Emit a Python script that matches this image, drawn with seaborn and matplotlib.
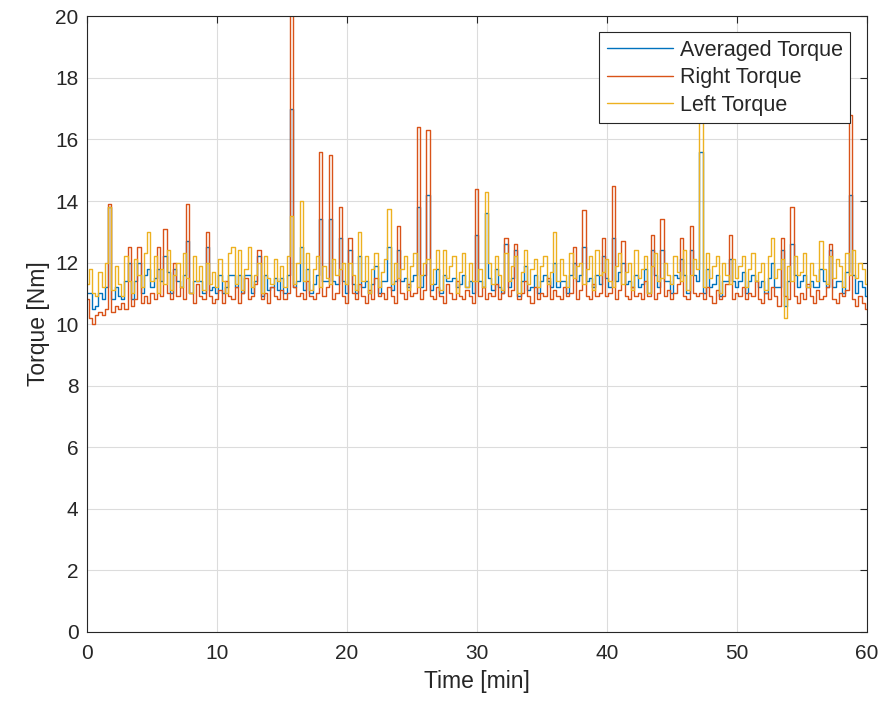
import numpy as np
import pandas as pd
import matplotlib
matplotlib.use("Agg")
import matplotlib.pyplot as plt
import seaborn as sns

# sample spacing of the read-off curves (minutes)
step = 0.25
time_min = np.arange(0, 60 + step / 2, step)

right_torque = [
    10.8, 10.2, 10.0, 10.3, 10.4, 10.3, 10.5, 13.9, 10.4, 10.6, 10.5, 10.7, 10.5, 12.5, 10.6, 10.8, 12.5, 10.7, 10.9, 10.7,
    11.0, 10.8, 12.5, 10.9, 13.1, 11.0, 10.8, 12.0, 10.9, 11.2, 10.8, 13.9, 11.0, 10.7, 11.3, 10.9, 10.8, 13.0, 10.9, 10.7,
    10.8, 11.1, 10.7, 11.4, 10.9, 10.8, 11.2, 10.7, 11.0, 11.5, 10.8, 10.9, 11.3, 12.4, 10.8, 11.0, 10.7, 11.2, 10.9, 10.8,
    11.1, 10.8, 11.0, 20.5, 11.2, 10.9, 11.0, 10.8, 11.4, 10.9, 10.8, 11.0, 15.6, 10.9, 11.2, 15.5, 10.8, 11.0, 13.8, 10.9,
    10.7, 12.8, 11.0, 10.8, 11.3, 10.9, 10.7, 11.1, 10.8, 11.5, 10.9, 11.0, 10.8, 11.2, 10.9, 10.7, 13.2, 11.0, 10.8, 11.3,
    10.9, 11.0, 16.4, 10.8, 11.1, 16.3, 10.9, 10.8, 11.2, 10.9, 10.7, 11.3, 11.0, 10.8, 11.4, 10.9, 10.8, 11.1, 10.9, 10.7,
    14.4, 10.9, 11.2, 10.8, 11.0, 10.9, 11.3, 10.8, 11.0, 12.8, 10.9, 11.1, 12.6, 10.8, 11.0, 11.4, 10.9, 10.7, 11.2, 10.8,
    11.0, 10.9, 11.5, 10.8, 11.1, 10.9, 10.8, 11.2, 10.9, 11.0, 12.5, 10.8, 11.1, 13.7, 10.9, 10.8, 11.3, 10.9, 11.0, 12.8,
    10.9, 11.0, 14.5, 10.8, 11.1, 12.7, 10.9, 10.8, 11.2, 10.9, 11.0, 10.8, 11.4, 10.9, 12.9, 10.8, 11.0, 13.4, 10.9, 11.1,
    10.8, 11.0, 11.3, 12.8, 10.9, 10.8, 13.2, 11.0, 10.9, 11.0, 10.8, 11.2, 10.9, 10.7, 11.1, 10.8, 10.9, 11.3, 12.9, 10.8,
    11.0, 10.9, 11.2, 10.8, 11.0, 10.9, 11.4, 10.8, 10.7, 11.0, 10.8, 11.2, 10.9, 10.6, 12.8, 10.9, 10.8, 13.8, 10.9, 10.7,
    11.0, 10.8, 11.3, 10.9, 10.7, 11.1, 10.8, 10.9, 11.2, 12.6, 10.8, 10.7, 11.0, 10.9, 11.1, 16.8, 10.8, 10.6, 10.9, 10.7,
    10.5,
]

left_torque = [
    11.3, 11.8, 11.0, 10.9, 11.7, 11.2, 12.0, 13.8, 11.1, 11.9, 11.3, 10.9, 12.2, 11.4, 11.0, 12.1, 11.6, 11.2, 12.3, 13.0,
    11.4, 12.2, 11.0, 11.8, 11.3, 12.4, 11.1, 11.6, 12.0, 11.2, 12.3, 11.5, 11.0, 12.2, 11.4, 11.9, 11.1, 12.0, 11.3, 11.7,
    11.2, 12.1, 11.4, 11.0, 12.3, 12.5, 11.3, 12.4, 11.1, 11.8, 12.5, 11.2, 11.6, 12.0, 11.0, 12.2, 11.5, 11.3, 12.1, 11.4,
    11.9, 11.2, 12.2, 13.5, 11.3, 12.0, 14.0, 11.4, 12.3, 11.1, 11.8, 12.2, 11.2, 11.9, 11.5, 11.3, 12.1, 11.6, 11.8, 12.0,
    11.3, 12.0, 11.6, 11.1, 13.0, 11.4, 12.2, 11.0, 11.8, 12.3, 11.2, 11.7, 12.1, 13.75, 11.3, 12.0, 11.5, 11.8, 12.2, 11.1,
    11.9, 12.3, 11.2, 11.6, 12.0, 12.1, 11.3, 11.8, 12.4, 11.1, 12.4, 11.5, 11.9, 12.2, 11.0, 11.7, 12.3, 11.2, 12.0, 11.4,
    11.4, 11.8, 11.2, 14.3, 12.0, 11.3, 12.2, 11.6, 11.1, 12.3, 11.4, 11.9, 12.2, 11.0, 11.7, 12.4, 11.3, 11.8, 12.1, 11.2,
    11.9, 12.2, 11.3, 11.7, 13.0, 11.4, 12.1, 11.6, 11.2, 12.3, 11.5, 11.9, 12.0, 11.3, 11.8, 12.2, 11.1, 12.4, 11.6, 11.7,
    12.1, 11.4, 11.2, 11.9, 12.3, 11.3, 11.7, 12.0, 11.1, 12.4, 11.5, 11.8, 12.2, 11.0, 11.9, 12.3, 11.4, 11.5, 12.0, 11.6,
    11.3, 12.2, 11.7, 11.4, 12.4, 11.1, 11.6, 12.1, 11.8, 19.2, 11.2, 12.3, 11.5, 11.9, 12.2, 11.0, 12.0, 11.6, 11.3, 12.1,
    11.5, 11.9, 12.2, 11.2, 11.8, 12.3, 11.4, 11.7, 12.0, 11.1, 12.2, 12.8, 11.5, 11.8, 12.1, 10.2, 11.9, 11.4, 12.2, 11.6,
    11.7, 12.3, 11.2, 12.0, 11.6, 11.4, 12.7, 11.8, 11.3, 12.2, 11.5, 12.1, 11.9, 11.2, 12.3, 11.6, 12.4, 11.5, 12.0, 11.8,
    11.3,
]

averaged_torque = [
    11.0, 11.0, 10.5, 10.6, 11.0, 10.8, 11.2, 13.8, 10.8, 11.2, 10.9, 10.8, 11.4, 12.0, 10.8, 11.4, 12.0, 11.0, 11.6, 11.8,
    11.2, 11.5, 11.8, 11.4, 12.2, 11.7, 11.0, 11.8, 11.4, 11.2, 11.6, 12.7, 11.0, 11.4, 11.4, 11.4, 11.0, 12.5, 11.1, 11.2,
    11.0, 11.6, 11.0, 11.2, 11.6, 11.6, 11.2, 11.6, 11.0, 11.6, 11.6, 11.0, 11.4, 12.2, 10.9, 11.6, 11.1, 11.2, 11.5, 11.1,
    11.5, 11.0, 11.6, 17.0, 11.2, 11.4, 12.5, 11.1, 11.8, 11.0, 11.3, 11.6, 13.4, 11.4, 11.4, 13.4, 11.4, 11.3, 12.8, 11.4,
    11.0, 12.4, 11.3, 11.0, 12.2, 11.2, 11.4, 11.0, 11.3, 11.9, 11.0, 11.4, 11.4, 12.5, 11.1, 11.4, 12.4, 11.4, 11.5, 11.2,
    11.4, 11.6, 13.8, 11.2, 11.6, 14.2, 11.1, 11.3, 11.8, 11.0, 11.6, 11.4, 11.4, 11.5, 11.2, 11.3, 11.6, 11.2, 11.4, 11.0,
    12.9, 11.4, 11.2, 13.6, 11.5, 11.1, 11.8, 11.2, 11.0, 12.6, 11.2, 11.5, 12.4, 10.9, 11.4, 11.9, 11.1, 11.2, 11.6, 11.0,
    11.4, 11.6, 11.4, 11.2, 12.0, 11.2, 11.4, 11.4, 11.0, 11.6, 12.0, 11.4, 11.6, 12.5, 11.4, 11.5, 11.2, 11.6, 11.3, 12.2,
    11.5, 11.2, 12.8, 11.4, 11.7, 12.0, 11.3, 11.4, 11.2, 11.6, 11.2, 11.3, 11.8, 11.0, 12.4, 11.6, 11.2, 12.4, 11.4, 11.4,
    11.0, 11.6, 11.5, 12.1, 11.6, 11.0, 12.4, 11.6, 11.4, 15.6, 11.0, 11.8, 11.2, 11.3, 11.6, 10.9, 11.4, 11.4, 12.1, 11.4,
    11.2, 11.4, 11.7, 11.0, 11.4, 11.6, 11.4, 11.2, 11.4, 11.0, 11.5, 12.0, 11.2, 11.2, 12.4, 10.6, 11.4, 12.6, 11.6, 11.2,
    11.4, 11.6, 11.2, 11.4, 11.2, 11.2, 11.8, 11.4, 11.2, 12.4, 11.2, 11.4, 11.4, 11.0, 11.7, 14.2, 11.6, 11.0, 11.4, 11.2,
    10.9,
]

df = pd.DataFrame({
    "time": time_min,
    "avg": averaged_torque,
    "right": right_torque,
    "left": left_torque,
})

sns.set_theme(style="whitegrid")
plt.rcParams["font.family"] = ["Liberation Sans", "DejaVu Sans"]

fig = plt.figure(figsize=(8.87, 7.10), dpi=100)
ax = fig.add_axes([0.098, 0.110, 0.879, 0.867])

# MATLAB default line colours
sns.lineplot(data=df, x="time", y="avg", ax=ax, color="#0072BD", lw=1.0,
             drawstyle="steps-mid", label="Averaged Torque")
sns.lineplot(data=df, x="time", y="right", ax=ax, color="#D95319", lw=1.0,
             drawstyle="steps-mid", label="Right Torque")
sns.lineplot(data=df, x="time", y="left", ax=ax, color="#EDB120", lw=1.0,
             drawstyle="steps-mid", label="Left Torque")

ax.set_xlim(0, 60)
ax.set_ylim(0, 20)
ax.set_xticks(range(0, 61, 10))
ax.set_yticks(range(0, 21, 2))
ax.set_xlabel("Time [min]", fontsize=16.5, color="#262626", labelpad=5)
ax.set_ylabel("Torque [Nm]", fontsize=16.5, color="#262626", labelpad=4)
ax.tick_params(direction="in", top=True, right=True, length=5, width=0.8,
               labelsize=15, colors="#262626")
ax.tick_params(axis="x", pad=9)
ax.tick_params(axis="y", pad=6)
ax.set_facecolor("white")
ax.grid(True, color="#dcdcdc", linewidth=0.8)
for sp in ax.spines.values():
    sp.set_visible(True)
    sp.set_color("#262626")
    sp.set_linewidth(0.8)

leg = ax.legend(loc="upper right", fontsize=15.5, frameon=True, fancybox=False,
                edgecolor="#262626", framealpha=1, borderaxespad=0.75,
                handlelength=3.1, handletextpad=0.3, labelspacing=0.3,
                borderpad=0.35)
leg.get_frame().set_linewidth(0.8)

fig.savefig("out.png", dpi=100)
